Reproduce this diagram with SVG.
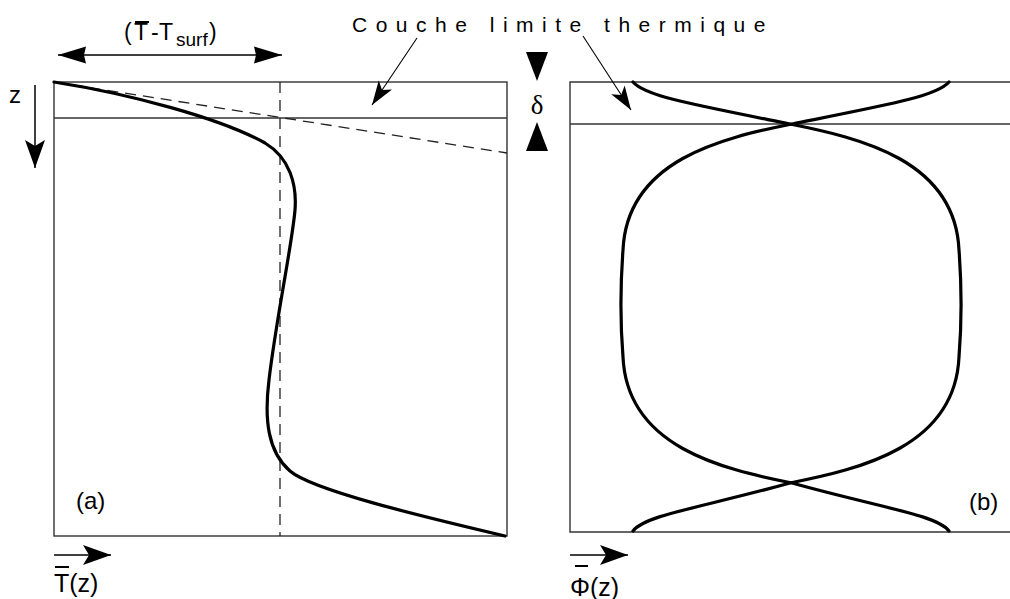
<svg xmlns="http://www.w3.org/2000/svg" width="1010" height="599" viewBox="0 0 1010 599">
<defs>
<style>
.frame{stroke:#333;stroke-width:1.4;fill:none}
.dash{stroke:#222;stroke-width:1.3;fill:none;stroke-dasharray:11,7}
.curve{stroke:#000;stroke-width:3.2;fill:none;stroke-linecap:round;stroke-linejoin:round}
.conn{stroke:#000;stroke-width:1.5;fill:none}
.thin{stroke:#000;stroke-width:1.1;fill:none}
.lbl{font-family:"Liberation Sans",Arial,sans-serif;fill:#000}
.bar{stroke:#000;stroke-width:2}
</style>
<marker id="hBig" viewBox="-28 -11 28 22" refX="0" refY="0" markerWidth="28" markerHeight="22" markerUnits="userSpaceOnUse" orient="auto-start-reverse">
<path d="M0,0 L-28,-10 L-22,0 L-28,10 Z" fill="#000"/>
</marker>
<marker id="hDbl" viewBox="-28 -9 28 18" refX="0" refY="0" markerWidth="28" markerHeight="18" markerUnits="userSpaceOnUse" orient="auto-start-reverse">
<path d="M0,0 L-28,-8.5 L-26,0 L-28,8.5 Z" fill="#000"/>
</marker>
<marker id="hPtr" viewBox="-24 -9 24 18" refX="0" refY="0" markerWidth="24" markerHeight="18" markerUnits="userSpaceOnUse" orient="auto">
<path d="M0,0 L-24,-8 L-18,0 L-24,8 Z" fill="#000"/>
</marker>
</defs>

<g id="panel-a">
<rect class="frame" x="54" y="82" width="453" height="454"/>
<line class="frame" x1="54" y1="118" x2="507" y2="118"/>
<line class="dash" x1="280" y1="82" x2="280" y2="536"/>
<line class="dash" x1="54" y1="82" x2="507" y2="153"/>
<path class="curve" d="M54,82 C130,94 220,118 265,143 C290,158 297,185 295,210 C292,245 276,320 269,380 C264,420 268,452 290,471 C312,490 420,516 505,536"/>
<text class="lbl" x="76" y="509" font-size="24">(a)</text>
</g>

<g id="panel-b">
<path class="frame" d="M1012,82 L570,82 L570,532 L1012,532"/>
<line class="frame" x1="570" y1="124" x2="1012" y2="124"/>
<path id="curveA" class="curve" d="M633,82 C645,96 690,104 790,124 C860,138 955,160 959,250 C962,290 962,320 959,357 C955,447 860,469 790,483 C700,508 645,515 633,531"/>
<path class="curve" transform="translate(1582,0) scale(-1,1)" d="M633,82 C645,96 690,104 790,124 C860,138 955,160 959,250 C962,290 962,320 959,357 C955,447 860,469 790,483 C700,508 645,515 633,531"/>
<text class="lbl" x="969" y="510" font-size="24">(b)</text>
</g>

<g id="title">
<text class="lbl" x="352" y="32" font-size="21" letter-spacing="8.5">Couche limite thermique</text>
</g>

<g id="delta">
<polygon points="526,52 548,52 537,81" fill="#000"/>
<polygon points="526,151 548,151 537,122" fill="#000"/>
<text x="537" y="114" font-family="'Liberation Serif','Times New Roman',serif" font-size="27" text-anchor="middle">δ</text>
</g>

<g id="diff-label">
<text class="lbl" font-size="23" y="40"><tspan x="124">(</tspan><tspan x="134">T</tspan><tspan x="151">-</tspan><tspan x="159">T</tspan><tspan x="176" y="46" font-size="19">surf</tspan><tspan x="209" y="40">)</tspan></text>
<line class="bar" x1="135" y1="22" x2="149" y2="22"/>
</g>

<g id="z-label">
<text class="lbl" x="9" y="103" font-size="24">z</text>
</g>

<g id="T-label">
<text class="lbl" x="54" y="592" font-size="25">T(z)</text>
<line class="bar" x1="55" y1="567" x2="69" y2="567"/>
</g>

<g id="Phi-label">
<text class="lbl" x="570" y="596" font-size="25">Φ(z)</text>
<line class="bar" x1="575" y1="566" x2="588" y2="566"/>
</g>

<g id="connectors">
<line class="conn" x1="58" y1="55" x2="282" y2="55" marker-start="url(#hDbl)" marker-end="url(#hDbl)"/>
<line class="conn" x1="35" y1="85" x2="35" y2="168" marker-end="url(#hBig)"/>
<line class="conn" x1="54" y1="555" x2="111" y2="555" marker-end="url(#hBig)"/>
<line class="conn" x1="570" y1="555" x2="628" y2="555" marker-end="url(#hBig)"/>
<line class="thin" x1="417" y1="38" x2="372" y2="105" marker-end="url(#hPtr)"/>
<line class="thin" x1="583" y1="36" x2="631" y2="110" marker-end="url(#hPtr)"/>
</g>
</svg>
